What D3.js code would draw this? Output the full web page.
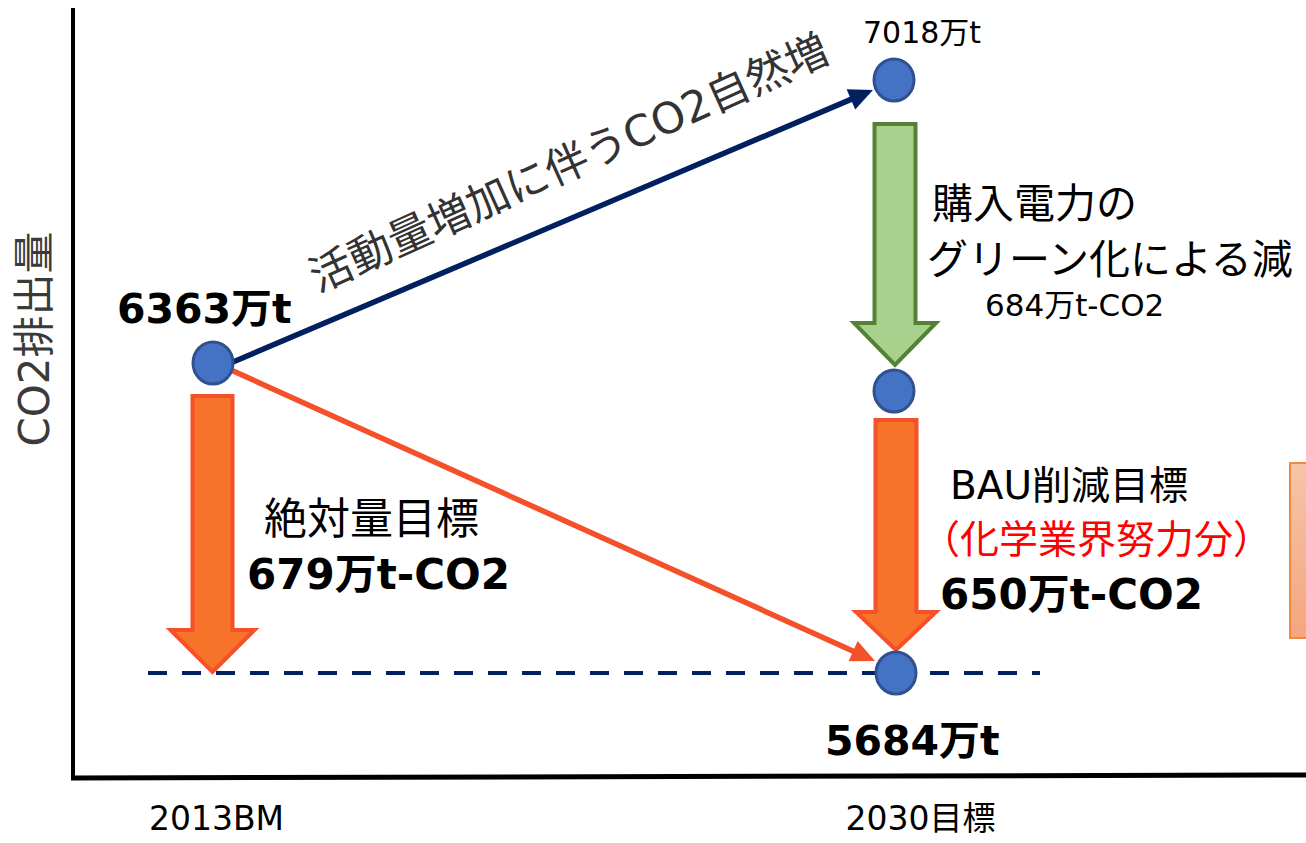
<!DOCTYPE html>
<html><head><meta charset="utf-8">
<script src="https://cdn.jsdelivr.net/npm/d3@7/dist/d3.min.js"></script>
<style>
html,body{margin:0;padding:0;background:#fff;}
svg{display:block;}
text{font-family:"DejaVu Sans","Noto Sans CJK JP",sans-serif;}
</style></head>
<body>
<svg id="chart" width="1306" height="843"></svg>
<script>
// ---- data ----
const categories = ["2013BM", "2030目標"];
const pointCats   = ["2013BM", "2030目標", "2030目標", "2030目標"];
const pointValues = [6363, 7018, 6334, 5684];      // base, BAU, after green power, target
const baseValue = 6363;
const bauValue = 7018;
const greenCut = 684;
const bauCut = 650;
const absCut = 679;
const targetValue = 5684;
const yAxisTitle = "CO2排出量";
const riseLabel = "活動量増加に伴うCO2自然増";
const greenLabel = ["購入電力の", "グリーン化による減"];
const greenValueLabel = "684万t-CO2";
const bauLabel = "BAU削減目標";
const bauSubLabel = "（化学業界努力分）";
const bauValueLabel = "650万t-CO2";
const absLabel = "絶対量目標";
const absValueLabel = "679万t-CO2";

const svg = d3.select("#chart");

// ---- scales (schematic, piecewise) ----
const x = d3.scalePoint().domain(categories).range([213, 895]);
const y = d3.scaleLinear()
  .domain([targetValue, bauValue - greenCut, baseValue, bauValue])
  .range([673, 391, 363, 80]);

const navy = "#002060", orangeFill = "#F8732A", orangeStroke = "#F4502A";
const ptFill = "#4472C4", ptStroke = "#2F528F";

// ---- axes ----
svg.append("line").attr("x1", 73).attr("x2", 73).attr("y1", 8).attr("y2", 779)
  .attr("stroke", "#000").attr("stroke-width", 4);
svg.append("line").attr("x1", 71).attr("x2", 1306).attr("y1", 778).attr("y2", 775)
  .attr("stroke", "#000").attr("stroke-width", 5);

const xAxis = d3.axisBottom(x).tickSize(0).tickPadding(0);
const gx = svg.append("g").attr("transform", "translate(0,806)").call(xAxis);
gx.select(".domain").remove();
gx.selectAll("text").attr("font-size", 33).attr("fill", "#000")
  .attr("font-family", "'DejaVu Sans','Noto Sans CJK JP',sans-serif")
  .attr("dy", "0.72em")
  .attr("dx", (d, i) => i === 0 ? 3 : 25);

svg.append("text").attr("transform", "translate(49,339) rotate(-90)")
  .attr("text-anchor", "middle").attr("font-size", 42).attr("fill", "#3a3a3a")
  .text(yAxisTitle);

// ---- dashed target line ----
svg.append("line").attr("x1", 148).attr("x2", 1040)
  .attr("y1", y(targetValue)).attr("y2", y(targetValue))
  .attr("stroke", navy).attr("stroke-width", 4).attr("stroke-dasharray", "19,15");

// ---- block arrows ----
function blockArrow(cx, yTop, yTip, shaftHW, headHW, headLen) {
  const yh = yTip - headLen;
  return `M${cx - shaftHW},${yTop}L${cx + shaftHW},${yTop}L${cx + shaftHW},${yh}L${cx + headHW},${yh}L${cx},${yTip}L${cx - headHW},${yh}L${cx - shaftHW},${yh}Z`;
}
const x0 = x(categories[0]), x1 = x(categories[1]);
svg.append("path").attr("d", blockArrow(x0 - 0.5, y(baseValue) + 33, y(baseValue - absCut) - 1, 20, 42, 42))
  .attr("fill", orangeFill).attr("stroke", orangeStroke).attr("stroke-width", 4);
svg.append("path").attr("d", blockArrow(x1, y(bauValue) + 44, y(bauValue - greenCut) - 26, 20.5, 41, 42))
  .attr("fill", "#A9D18E").attr("stroke", "#548235").attr("stroke-width", 4);
svg.append("path").attr("d", blockArrow(x1 + 1, y(bauValue - greenCut) + 29, y(targetValue) - 23, 20.5, 40, 38))
  .attr("fill", orangeFill).attr("stroke", orangeStroke).attr("stroke-width", 4);

// ---- line arrows ----
function lineArrow(xa, ya, xb, yb, color, w, hl, hw) {
  const ang = Math.atan2(yb - ya, xb - xa);
  const c = Math.cos(ang), s = Math.sin(ang);
  const bx = xb - hl * c, by = yb - hl * s;
  svg.append("line").attr("x1", xa).attr("y1", ya).attr("x2", bx + 2 * c).attr("y2", by + 2 * s)
    .attr("stroke", color).attr("stroke-width", w);
  svg.append("path")
    .attr("d", `M${xb},${yb}L${bx - hw * s},${by + hw * c}L${bx + hw * s},${by - hw * c}Z`)
    .attr("fill", color);
}
lineArrow(x0 + 20, y(baseValue) - 1, x1 - 22, y(bauValue) + 10, navy, 5.5, 24, 11);
lineArrow(x0 + 18, y(baseValue) + 7, x1 - 20, y(targetValue) - 12, orangeStroke, 5.5, 24, 11);

// ---- points ----
svg.selectAll("ellipse.pt").data(pointValues).join("ellipse").attr("class", "pt")
  .attr("cx", (d, i) => x(pointCats[i]) + (i === 0 ? 0 : (i === 3 ? 1 : -1)))
  .attr("cy", d => y(d))
  .attr("rx", 20).attr("ry", 21)
  .attr("fill", ptFill).attr("stroke", ptStroke).attr("stroke-width", 3);

// ---- right-edge box ----
const grad = svg.append("defs").append("linearGradient").attr("id", "boxg")
  .attr("x1", 0).attr("y1", 0).attr("x2", 0).attr("y2", 1);
grad.append("stop").attr("offset", "0%").attr("stop-color", "#F6C4A9");
grad.append("stop").attr("offset", "100%").attr("stop-color", "#F4A67D");
svg.append("rect").attr("x", 1290).attr("y", 463).attr("width", 30).attr("height", 175)
  .attr("fill", "url(#boxg)").attr("stroke", "#F08A3E").attr("stroke-width", 2);

// ---- labels ----
function label(tx, ty, str, size, opts = {}) {
  return svg.append("text").attr("x", tx).attr("y", ty).text(str)
    .attr("font-size", size).attr("fill", opts.fill || "#000")
    .attr("font-weight", opts.bold ? "bold" : "normal")
    .attr("text-anchor", opts.anchor || "start");
}
label(x0 - 96, y(baseValue) - 40, baseValue + "万t", 41, { bold: true });
label(x1 - 32, y(bauValue) - 37, bauValue + "万t", 30);
label(x1 - 70, y(targetValue) + 82, targetValue + "万t", 41, { bold: true });

label(932, 218, greenLabel[0], 41);
label(927, 274, greenLabel[1], 41);
label(985, 316, greenValueLabel, 31);

label(950, 499, bauLabel, 39);
label(921, 553, bauSubLabel, 39, { fill: "#FF0000" });
label(940, 609, bauValueLabel, 42, { bold: true });

label(264, 534, absLabel, 43);
label(247, 589, absValueLabel, 42, { bold: true });

svg.append("text").attr("transform", "translate(569,163) rotate(-24.3)")
  .attr("text-anchor", "middle").attr("dominant-baseline", "central")
  .attr("font-size", 43).attr("fill", "#333").text(riseLabel);
</script>
</body></html>
